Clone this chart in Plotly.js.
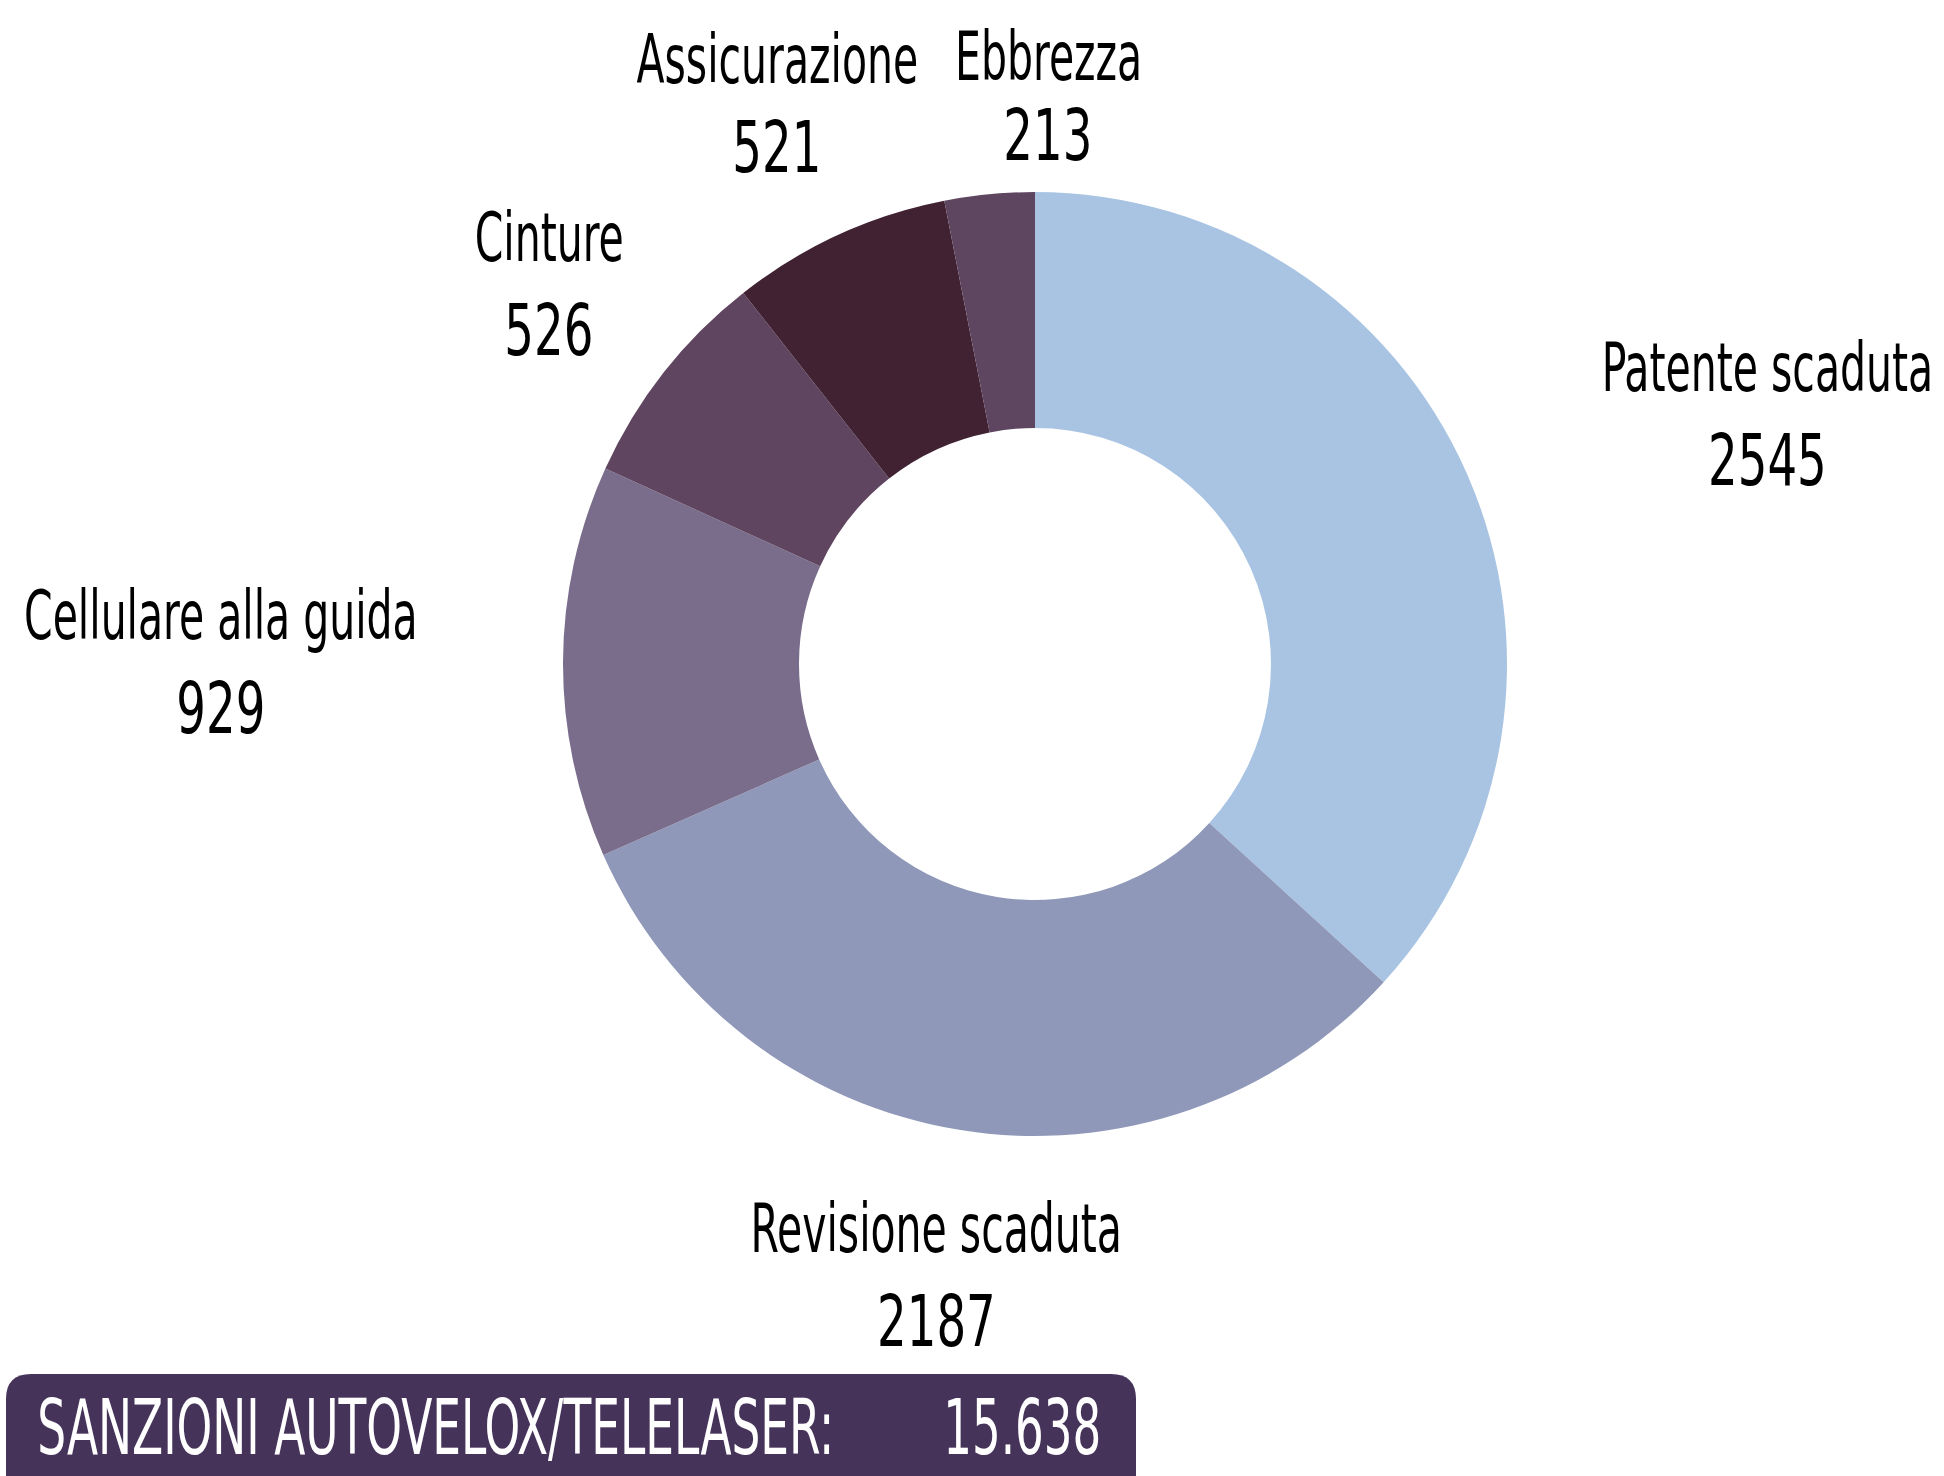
<!DOCTYPE html>
<html>
<head>
<meta charset="utf-8">
<script src="https://cdn.plot.ly/plotly-3.0.1.min.js"></script>
<style>
html,body{margin:0;padding:0;background:#fff;}
#chart{width:1944px;height:1476px;}
</style>
</head>
<body>
<div id="chart"></div>
<script>
// ---- data ----
var categories = ["Patente scaduta", "Revisione scaduta", "Cellulare alla guida", "Cinture", "Assicurazione", "Ebbrezza"];
var counts = [2545, 2187, 929, 526, 521, 213];
var bannerLabel = "SANZIONI AUTOVELOX/TELELASER:";
var bannerValue = "15.638";

// ---- style ----
var colors = ["#a9c4e3", "#8f98b9", "#7a6d8b", "#5f4560", "#412232", "#5e4560"];
var W = 1944, H = 1476;
var FONT = "'Liberation Sans Narrow', 'DejaVu Sans Condensed', 'Arial Narrow', sans-serif";
// label anchor positions in pixels: [x, nameY, valueY]
var labelPos = [
  [1767, 366, 459],
  [936, 1227, 1320],
  [221, 614, 707],
  [549, 236, 329],
  [777, 58, 146],
  [1048, 56, 134]
];
var cx = 1035, cy = 664, R = 472;

function px(x){ return x / W; }
function py(y){ return 1 - y / H; }

var annotations = [];
var squeeze = [];
categories.forEach(function(c, i){
  var p = labelPos[i];
  annotations.push({xref:'paper', yref:'paper', x:px(p[0]), y:py(p[1]+1), text:c,
    showarrow:false, xanchor:'center', yanchor:'middle',
    font:{family:FONT, size:68, color:'#000'}});
  squeeze.push(0.67);
  annotations.push({xref:'paper', yref:'paper', x:px(p[0]), y:py(p[2]+1), text:String(counts[i]),
    showarrow:false, xanchor:'center', yanchor:'middle',
    font:{family:FONT, size:72, color:'#000'}});
  squeeze.push(0.72);
});
annotations.push({xref:'paper', yref:'paper', x:px(35), y:py(1427), text:bannerLabel,
  showarrow:false, xanchor:'left', yanchor:'middle',
  font:{family:FONT, size:76, color:'#ffffff'}});
squeeze.push(0.665);
annotations.push({xref:'paper', yref:'paper', x:px(1103), y:py(1427), text:bannerValue,
  showarrow:false, xanchor:'right', yanchor:'middle',
  font:{family:FONT, size:76, color:'#ffffff'}});
squeeze.push(0.66);

// rounded banner path in paper coords
var bx0 = px(6), bx1 = px(1136), byT = py(1374), byB = py(1500);
var rx = 25 / W, ry = 25 / H;
var bannerPath = 'M ' + (bx0+rx) + ' ' + byT +
  ' L ' + (bx1-rx) + ' ' + byT +
  ' Q ' + bx1 + ' ' + byT + ' ' + bx1 + ' ' + (byT-ry) +
  ' L ' + bx1 + ' ' + byB +
  ' L ' + bx0 + ' ' + byB +
  ' L ' + bx0 + ' ' + (byT-ry) +
  ' Q ' + bx0 + ' ' + byT + ' ' + (bx0+rx) + ' ' + byT + ' Z';

var trace = {
  type: 'pie',
  labels: categories,
  values: counts,
  hole: 0.5,
  sort: false,
  direction: 'clockwise',
  rotation: 0,
  textinfo: 'none',
  hoverinfo: 'none',
  marker: {colors: colors, line: {width: 0}},
  domain: {x: [px(cx - R), px(cx + R)], y: [py(cy + R), py(cy - R)]},
  showlegend: false
};

var layout = {
  width: W, height: H,
  margin: {l:0, r:0, t:0, b:0},
  paper_bgcolor: '#ffffff',
  plot_bgcolor: '#ffffff',
  showlegend: false,
  annotations: annotations,
  shapes: [{type:'path', xref:'paper', yref:'paper', path: bannerPath,
    fillcolor:'#45335a', line:{width:0}, layer:'below'}]
};

Plotly.newPlot('chart', [trace], layout, {displayModeBar:false, staticPlot:true}).then(function(gd){
  // condense the label text horizontally (the reference uses a narrow typeface)
  var groups = gd.querySelectorAll('g.annotation');
  groups.forEach(function(g){
    var idx = +g.getAttribute('data-index');
    var t = g.querySelector('text.annotation-text');
    if (!t || isNaN(idx)) return;
    var s = squeeze[idx];
    var bb = t.getBBox();
    var a = annotations[idx].xanchor;
    var ax = a === 'left' ? bb.x : (a === 'right' ? bb.x + bb.width : bb.x + bb.width / 2);
    t.setAttribute('transform', 'translate(' + ax + ',0) scale(' + s + ',1) translate(' + (-ax) + ',0)');
  });
});
</script>
</body>
</html>
